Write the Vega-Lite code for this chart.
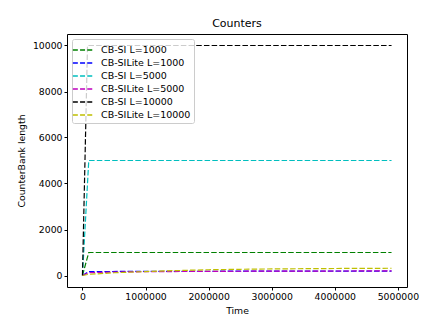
{
  "$schema": "https://vega.github.io/schema/vega-lite/v6.json",
  "width": 340,
  "height": 253,
  "autosize": "none",
  "padding": {"left": 67, "top": 34, "right": 17, "bottom": 28},
  "background": "white",
  "config": {
    "font": "DejaVu Sans",
    "view": {"stroke": "black", "strokeWidth": 1},
    "axis": {"grid": false, "domain": false, "tickColor": "black", "tickSize": 3, "labelFontSize": 9.3, "labelColor": "black", "titleFontSize": 9.3, "titleFontWeight": "normal", "titleColor": "black", "labelPadding": 2},
    "title": {"fontSize": 11, "fontWeight": "normal", "color": "black", "offset": 5}
  },
  "title": "Counters",
  "data": {
    "values": [
      {"series": "CB-SI L=1000", "t": 0, "v": 0},
      {"series": "CB-SI L=1000", "t": 100000, "v": 1000},
      {"series": "CB-SI L=1000", "t": 2500000, "v": 1000},
      {"series": "CB-SI L=1000", "t": 4900000, "v": 1000},
      {"series": "CB-SILite L=1000", "t": 0, "v": 0},
      {"series": "CB-SILite L=1000", "t": 100000, "v": 170},
      {"series": "CB-SILite L=1000", "t": 1000000, "v": 180},
      {"series": "CB-SILite L=1000", "t": 2000000, "v": 185},
      {"series": "CB-SILite L=1000", "t": 3000000, "v": 190},
      {"series": "CB-SILite L=1000", "t": 4000000, "v": 190},
      {"series": "CB-SILite L=1000", "t": 4900000, "v": 190},
      {"series": "CB-SI L=5000", "t": 0, "v": 0},
      {"series": "CB-SI L=5000", "t": 100000, "v": 5000},
      {"series": "CB-SI L=5000", "t": 2500000, "v": 5000},
      {"series": "CB-SI L=5000", "t": 4900000, "v": 5000},
      {"series": "CB-SILite L=5000", "t": 0, "v": 0},
      {"series": "CB-SILite L=5000", "t": 100000, "v": 120},
      {"series": "CB-SILite L=5000", "t": 500000, "v": 150},
      {"series": "CB-SILite L=5000", "t": 1000000, "v": 165},
      {"series": "CB-SILite L=5000", "t": 2000000, "v": 180},
      {"series": "CB-SILite L=5000", "t": 3000000, "v": 190},
      {"series": "CB-SILite L=5000", "t": 4000000, "v": 195},
      {"series": "CB-SILite L=5000", "t": 4900000, "v": 200},
      {"series": "CB-SI L=10000", "t": 0, "v": 0},
      {"series": "CB-SI L=10000", "t": 80000, "v": 10000},
      {"series": "CB-SI L=10000", "t": 2500000, "v": 10000},
      {"series": "CB-SI L=10000", "t": 4900000, "v": 10000},
      {"series": "CB-SILite L=10000", "t": 0, "v": 0},
      {"series": "CB-SILite L=10000", "t": 100000, "v": 50},
      {"series": "CB-SILite L=10000", "t": 500000, "v": 120},
      {"series": "CB-SILite L=10000", "t": 1000000, "v": 170},
      {"series": "CB-SILite L=10000", "t": 1500000, "v": 215},
      {"series": "CB-SILite L=10000", "t": 2000000, "v": 250},
      {"series": "CB-SILite L=10000", "t": 2500000, "v": 270},
      {"series": "CB-SILite L=10000", "t": 3000000, "v": 285},
      {"series": "CB-SILite L=10000", "t": 3500000, "v": 295},
      {"series": "CB-SILite L=10000", "t": 4000000, "v": 305},
      {"series": "CB-SILite L=10000", "t": 4500000, "v": 310},
      {"series": "CB-SILite L=10000", "t": 4900000, "v": 315}
    ]
  },
  "mark": {"type": "line", "strokeDash": [5.5, 2.2], "strokeWidth": 1.2, "clip": true},
  "encoding": {
    "x": {"field": "t", "type": "quantitative", "title": "Time",
      "scale": {"domain": [-245000, 5145000], "nice": false, "zero": false},
      "axis": {"values": [0, 1000000, 2000000, 3000000, 4000000, 5000000], "format": "d", "titlePadding": 5}},
    "y": {"field": "v", "type": "quantitative", "title": "CounterBank length",
      "scale": {"domain": [-500, 10500], "nice": false, "zero": false},
      "axis": {"values": [0, 2000, 4000, 6000, 8000, 10000], "format": "d", "titlePadding": 6}},
    "color": {"field": "series", "type": "nominal",
      "scale": {"domain": ["CB-SI L=1000", "CB-SILite L=1000", "CB-SI L=5000", "CB-SILite L=5000", "CB-SI L=10000", "CB-SILite L=10000"],
        "range": ["#008000", "#0000ff", "#00bfbf", "#bf00bf", "#000000", "#bfbf00"]},
      "legend": {"title": null, "orient": "top-left", "offset": 5, "symbolType": "M-1.45,0H1.45", "symbolDash": [5, 2.2], "symbolStrokeWidth": 1.3, "symbolSize": 196, "labelFontSize": 9.5, "labelColor": "black", "labelOffset": 10, "rowPadding": -0.5, "padding": 3, "strokeColor": "#cccccc", "fillColor": "rgba(255,255,255,0.8)", "cornerRadius": 2}
    },
    "order": {"field": "t", "type": "quantitative"}
  }
}
